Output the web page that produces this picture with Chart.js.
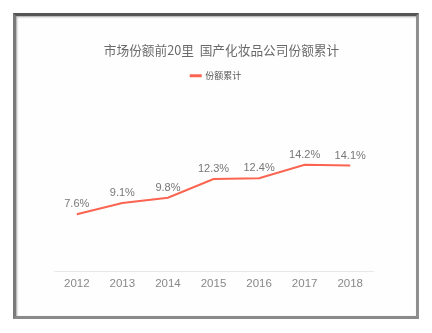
<!DOCTYPE html>
<html>
<head>
<meta charset="utf-8">
<script src="https://cdn.jsdelivr.net/npm/chart.js@4/dist/chart.umd.min.js"></script>
<style>
html,body{margin:0;padding:0;background:#fff;width:432px;height:333px;overflow:hidden;}
#frame{position:absolute;left:13px;top:13px;width:406px;height:306px;box-sizing:border-box;
  border-style:solid;border-width:3px;border-color:#555 #8f8f8f #8a8a8a #7a7a7a;
  box-shadow:inset 1px 1px 2px rgba(0,0,0,0.35);background:#fefefe;}
#wrap{position:absolute;left:0;top:0;width:432px;height:333px;}
</style>
</head>
<body>
<div id="frame"></div>
<div id="wrap"><canvas id="c" width="432" height="333"></canvas></div>
<script>
const categories = ['2012','2013','2014','2015','2016','2017','2018'];
const shareValues = [7.6, 9.1, 9.8, 12.3, 12.4, 14.2, 14.1];
const valueLabels = ['7.6%','9.1%','9.8%','12.3%','12.4%','14.2%','14.1%'];
const seriesName = '份额累计';
const chartTitle = '市场份额前20里  国产化妆品公司份额累计';

const RED = '#fa6450';

const layoutTweaks = {
  id: 'layoutTweaks',
  beforeInit(chart) {
    const lg = chart.legend;
    if (lg) {
      const fit = lg.fit;
      lg.fit = function () { fit.call(this); this.height += 61; };
    }
    const tb = chart.titleBlock;
    if (tb) {
      const d = tb.draw;
      tb.draw = function () {
        const ctx = this.ctx;
        ctx.save(); ctx.translate(5.5, 0); d.call(this); ctx.restore();
      };
    }
  }
};

const valueLabelPlugin = {
  id: 'valueLabels',
  afterDatasetsDraw(chart) {
    const ctx = chart.ctx;
    const meta = chart.getDatasetMeta(0);
    ctx.save();
    ctx.font = '11px "Liberation Sans", Arial, sans-serif';
    ctx.fillStyle = '#777';
    ctx.textAlign = 'center';
    ctx.textBaseline = 'middle';
    meta.data.forEach((pt, i) => {
      ctx.fillText(valueLabels[i], pt.x, pt.y - 10);
    });
    ctx.restore();
  }
};

new Chart(document.getElementById('c'), {
  type: 'line',
  data: {
    labels: categories,
    datasets: [{
      label: seriesName,
      data: shareValues,
      borderColor: RED,
      backgroundColor: RED,
      borderWidth: 2,
      pointRadius: 0,
      pointHoverRadius: 0,
      tension: 0,
      fill: false
    }]
  },
  options: {
    responsive: false,
    animation: false,
    events: [],
    layout: { padding: { top: 0, left: 0, right: 0, bottom: 36 } },
    plugins: {
      title: {
        display: true,
        text: chartTitle,
        color: '#6a6a6a',
        font: { family: '"Noto Sans CJK SC", sans-serif', size: 12.7, weight: 'normal', lineHeight: 1.2 },
        padding: { top: 43, bottom: 5 }
      },
      legend: {
        display: true,
        labels: {
          color: '#555',
          font: { family: '"Noto Sans CJK SC", sans-serif', size: 9 },
          boxWidth: 10,
          boxHeight: 1,
          padding: 8
        }
      },
      tooltip: { enabled: false }
    },
    scales: {
      x: {
        offset: true,
        grid: { display: false, drawTicks: false },
        border: { display: true, color: '#e8e8e8', width: 1 },
        ticks: { color: '#888', padding: 6, font: { family: '"Liberation Sans", Arial, sans-serif', size: 11.5 } }
      },
      y: {
        min: 0, max: 16,
        position: 'left',
        grid: { display: false, drawTicks: false },
        border: { display: false },
        ticks: { display: false },
        afterFit(s) { s.width = 54; }
      },
      y2: {
        min: 0, max: 16,
        position: 'right',
        grid: { display: false, drawTicks: false },
        border: { display: false },
        ticks: { display: false },
        afterFit(s) { s.width = 59; }
      }
    }
  },
  plugins: [layoutTweaks, valueLabelPlugin]
});
</script>
</body>
</html>
